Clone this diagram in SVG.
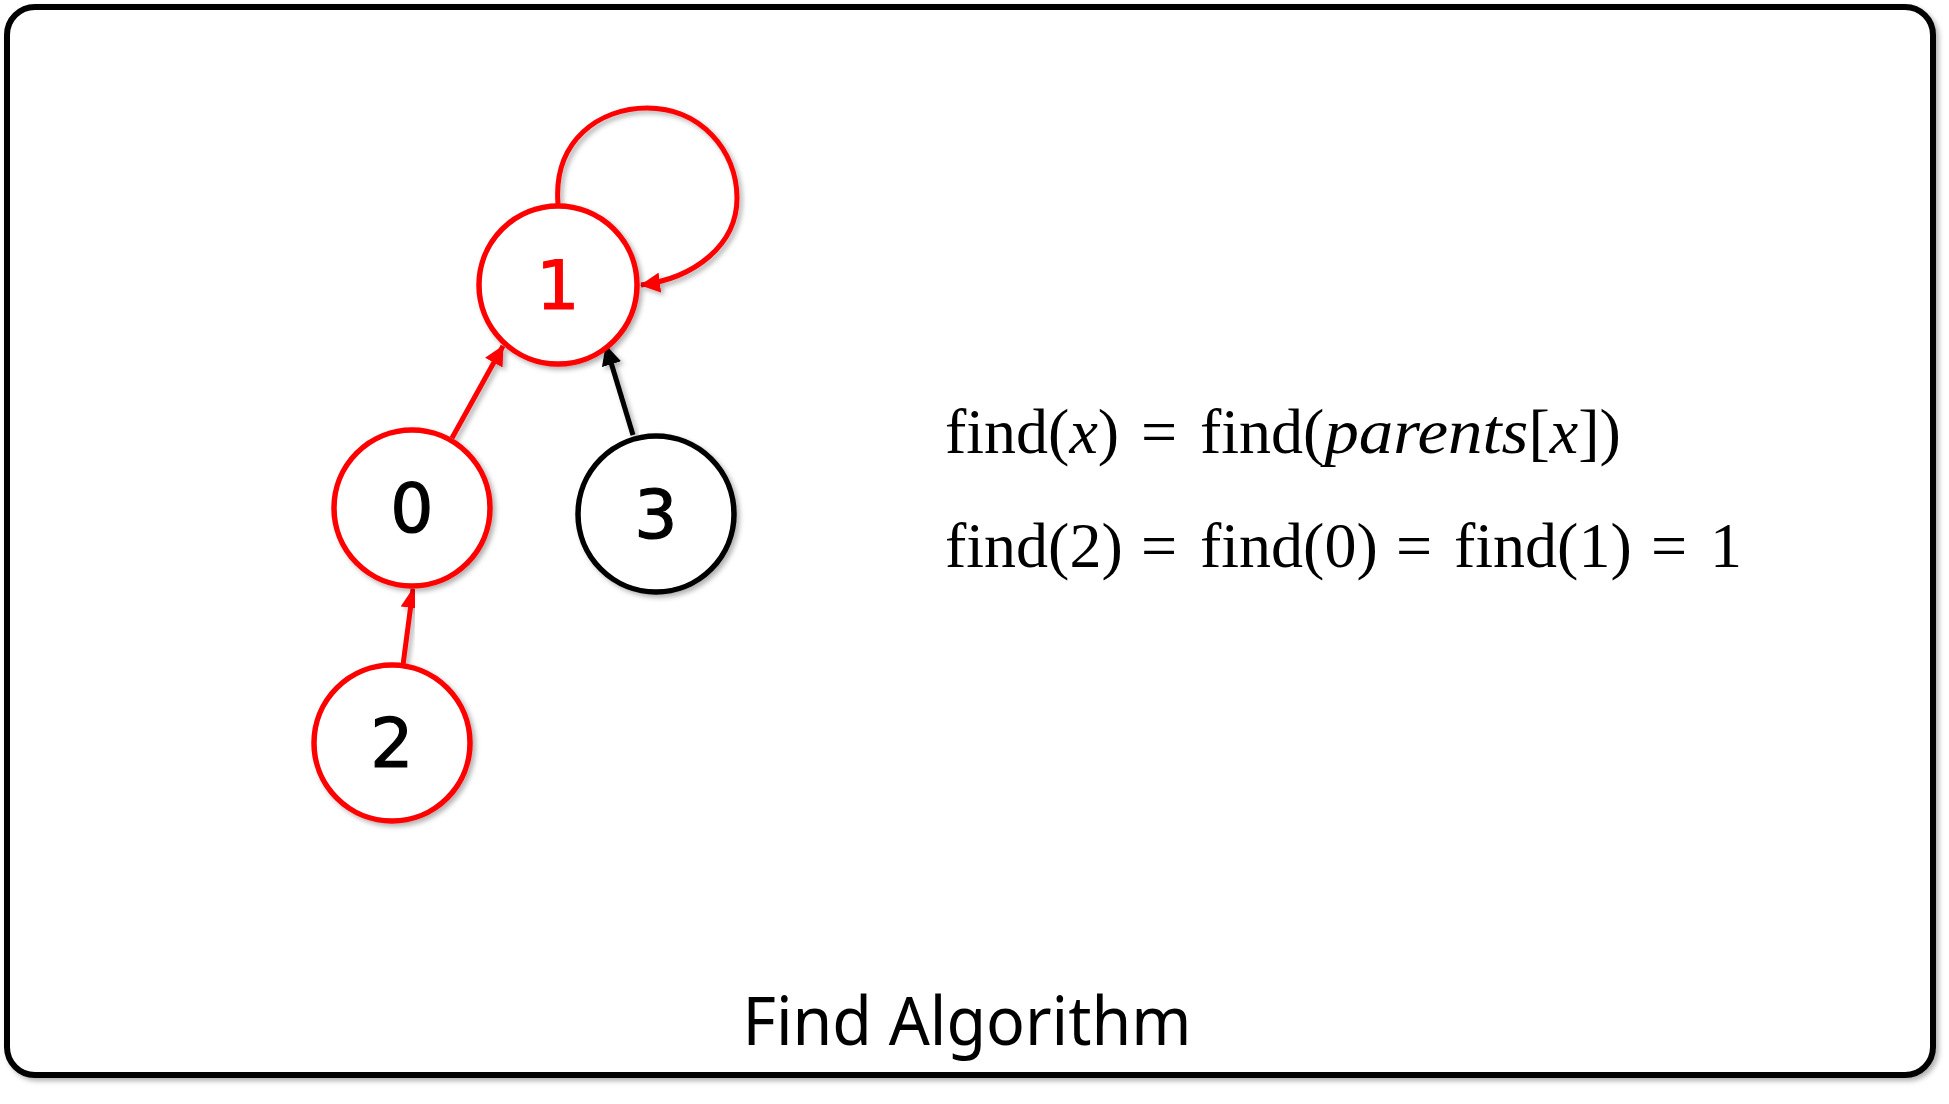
<svg xmlns="http://www.w3.org/2000/svg" width="1949" height="1104" viewBox="0 0 1949 1104">
<defs>
<filter id="sh" x="-20%" y="-20%" width="140%" height="140%">
<feDropShadow dx="3" dy="3" stdDeviation="2.5" flood-color="#000" flood-opacity="0.3"/>
</filter>
<marker id="ar" markerUnits="userSpaceOnUse" markerWidth="22" markerHeight="20" refX="19" refY="10" orient="auto">
<path d="M0,0 L20,10 L0,20 Z" fill="#ff0000"/>
</marker>
<marker id="ak" markerUnits="userSpaceOnUse" markerWidth="22" markerHeight="20" refX="19" refY="10" orient="auto">
<path d="M0,0 L20,10 L0,20 Z" fill="#000"/>
</marker>
<style>
.nr{fill:#fff;stroke:#ff0000;stroke-width:5.5}
.nk{fill:#fff;stroke:#000;stroke-width:5.5}
.lbl{font-family:"DejaVu Sans","Noto Sans",sans-serif;font-size:68px;text-anchor:middle;stroke-width:1.2}
.eq{font-family:"Liberation Serif","DejaVu Serif",serif;font-size:64px;fill:#000}
.it{font-style:italic}
.er{stroke:#ff0000;stroke-width:5;fill:none}
.ek{stroke:#000;stroke-width:5;fill:none}
</style>
</defs>
<rect x="0" y="0" width="1949" height="1104" fill="#fff"/>
<rect x="7" y="7" width="1926" height="1068" rx="28" fill="#fff" stroke="#000" stroke-width="6" filter="url(#sh)"/>
<g id="connectors">
<path class="er" d="M558,204 C553,140 600,108 647,108 C700,108 737,150 737,198 C737,245 695,278 641,285" marker-end="url(#ar)" filter="url(#sh)"/>
<line class="er" x1="452" y1="438" x2="503" y2="346" marker-end="url(#ar)" filter="url(#sh)"/>
<line class="ek" x1="633" y1="435" x2="606" y2="346" marker-end="url(#ak)" filter="url(#sh)"/>
<line class="er" x1="403" y1="665" x2="413" y2="589" marker-end="url(#ar)" filter="url(#sh)"/>
</g>
<g id="node1">
<circle class="nr" cx="558" cy="285" r="79" filter="url(#sh)"/>
<text class="lbl" x="558" y="309" fill="#ff0000" stroke="#ff0000">1</text>
</g>
<g id="node0">
<circle class="nr" cx="412" cy="508" r="78" filter="url(#sh)"/>
<text class="lbl" x="412" y="532" fill="#000" stroke="#000">0</text>
</g>
<g id="node3">
<circle class="nk" cx="656" cy="514" r="78" filter="url(#sh)"/>
<text class="lbl" x="656" y="538" fill="#000" stroke="#000">3</text>
</g>
<g id="node2">
<circle class="nr" cx="392" cy="743" r="78" filter="url(#sh)"/>
<text class="lbl" x="392" y="767" fill="#000" stroke="#000">2</text>
</g>
<g id="equations">
<text class="eq" y="453"><tspan x="945">find(</tspan><tspan class="it">x</tspan><tspan>)</tspan><tspan x="1141">=</tspan><tspan x="1200">find(</tspan><tspan class="it" textLength="204" lengthAdjust="spacingAndGlyphs">parents</tspan><tspan>[</tspan><tspan class="it">x</tspan><tspan>])</tspan></text>
<text class="eq" y="567"><tspan x="945">find(2)</tspan><tspan x="1141">=</tspan><tspan x="1200">find(0)</tspan><tspan x="1396">=</tspan><tspan x="1454">find(1)</tspan><tspan x="1651">=</tspan><tspan x="1710">1</tspan></text>
</g>
<text x="967" y="1045" font-family="'Noto Sans','Open Sans',sans-serif" font-size="68" text-anchor="middle" textLength="449" lengthAdjust="spacingAndGlyphs">Find Algorithm</text>
</svg>
